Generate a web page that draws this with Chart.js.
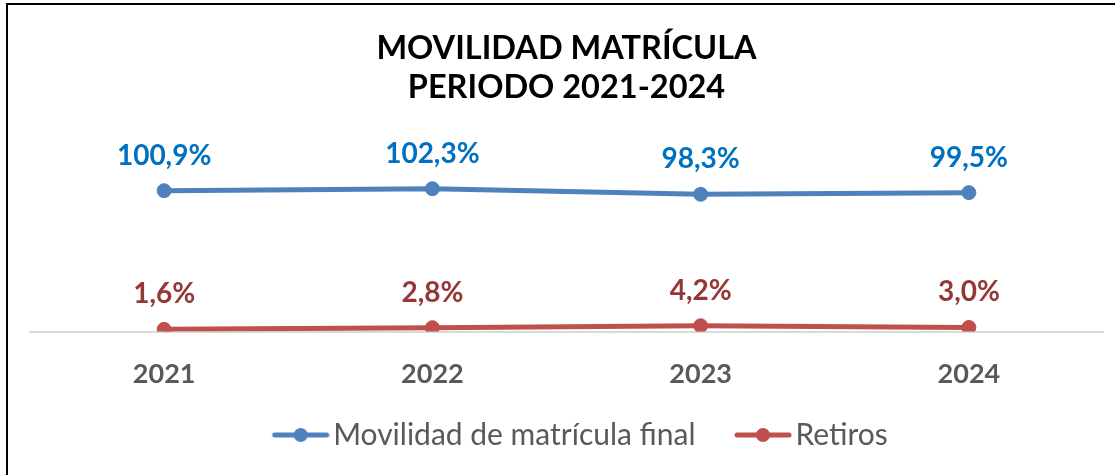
<!DOCTYPE html>
<html>
<head>
<meta charset="utf-8">
<script src="https://cdn.jsdelivr.net/npm/chart.js@4.4.1/dist/chart.umd.min.js"></script>
<style>
    html, body { margin: 0; padding: 0; background: #fff; }
    #wrap { position: relative; width: 1115px; height: 475px; }
    #frame {
        position: absolute; left: 6px; top: 3px; width: 1200px; height: 600px;
        border-left: 2px solid #000; border-top: 2px solid #000;
        pointer-events: none;
    }
</style>
</head>
<body>
<div id="wrap">
    <canvas id="movilidad_chart" width="1115" height="475"></canvas>
    <div id="frame"></div>
</div>

<script>

// Datos del grafico

var years = ['2021', '2022', '2023', '2024'];
var movilidad = [100.9, 102.3, 98.3, 99.5];
var retiros = [1.6, 2.8, 4.2, 3.0];
var series_names = ['Movilidad de matrícula final', 'Retiros'];
var title_lines = ['MOVILIDAD MATRÍCULA', 'PERIODO 2021-2024'];

var line_colors = ['#4F81BD', '#C0504D'];
var label_colors = ['#0070C0', '#953735'];


Chart.defaults.font.family = "Lato, 'Open Sans', sans-serif";
Chart.defaults.color = '#595959';


// legend marker: short line with a dot, drawn on the right side of the image
// (the blank left part gives the gap between legend items)
function legendMarker(color) {
    var c = document.createElement('canvas');
    c.width = 96; c.height = 16;
    var g = c.getContext('2d');
    var x0 = 96 - 58;
    g.strokeStyle = color;
    g.lineWidth = 5;
    g.lineCap = 'round';
    g.beginPath(); g.moveTo(x0 + 3, 8); g.lineTo(x0 + 55, 8); g.stroke();
    g.fillStyle = color;
    g.beginPath(); g.arc(x0 + 29, 8, 7, 0, Math.PI * 2); g.fill();
    return c;
}
var markers = [legendMarker(line_colors[0]), legendMarker(line_colors[1])];


// value labels above each point
var valueLabels = {
    id: 'valueLabels',
    afterDatasetsDraw: function(chart) {
        var ctx = chart.ctx;
        ctx.save();
        ctx.font = "bold 28px Lato, 'Open Sans', sans-serif";
        ctx.textAlign = 'center';
        ctx.textBaseline = 'middle';
        chart.data.datasets.forEach(function(ds, i) {
            ctx.fillStyle = label_colors[i];
            chart.getDatasetMeta(i).data.forEach(function(pt, j) {
                var txt = ds.data[j].toFixed(1).replace('.', ',') + '%';
                ctx.fillText(txt, pt.x, pt.y - 35);
            });
        });
        ctx.restore();
    }
};


var ctx = document.getElementById('movilidad_chart').getContext('2d');

var movilidad_chart = new Chart(ctx, {
    type: 'line',

    data: {
        labels: years,
        datasets: [{
            label: series_names[0],
            data: movilidad,
            borderColor: line_colors[0],
            backgroundColor: line_colors[0],},
        {
            label: series_names[1],
            data: retiros,
            borderColor: line_colors[1],
            backgroundColor: line_colors[1],},],
    },

    options: {
        responsive: false,
        animation: false,

        layout: {
            padding: { left: 30, right: 12, top: 0, bottom: 15 },},

        scales: {
            x: {
                offset: true,
                grid: { display: false, },
                border: { display: true, color: '#D9D9D9', width: 2, },
                ticks: {
                    padding: 18,
                    color: '#595959',
                    font: { size: 27, weight: 'bold' },},},
            y: {
                display: false,
                min: 0,
                max: 120,},},

        plugins: {
            title: {
                display: true,
                text: title_lines,
                color: '#000',
                font: { size: 32.5, weight: 'bold', lineHeight: 1.2 },
                padding: { top: 29, bottom: 57 },},

            legend: {
                display: true,
                position: 'bottom',
                labels: {
                    usePointStyle: true,
                    pointStyleWidth: 73,
                    padding: 12,
                    color: '#595959',
                    font: { size: 30, lineHeight: 1.2 },
                    generateLabels: function(chart) {
                        var items = Chart.defaults.plugins.legend.labels.generateLabels(chart);
                        items.forEach(function(it, i) { it.pointStyle = markers[i]; });
                        return items;
                    },},},

            tooltip: { enabled: false, },},

        elements: {
            point: { radius: 7, hoverRadius: 7, },
            line: { tension: 0, borderWidth: 5, },}
    },

    plugins: [valueLabels],
});

</script>
</body>
</html>
